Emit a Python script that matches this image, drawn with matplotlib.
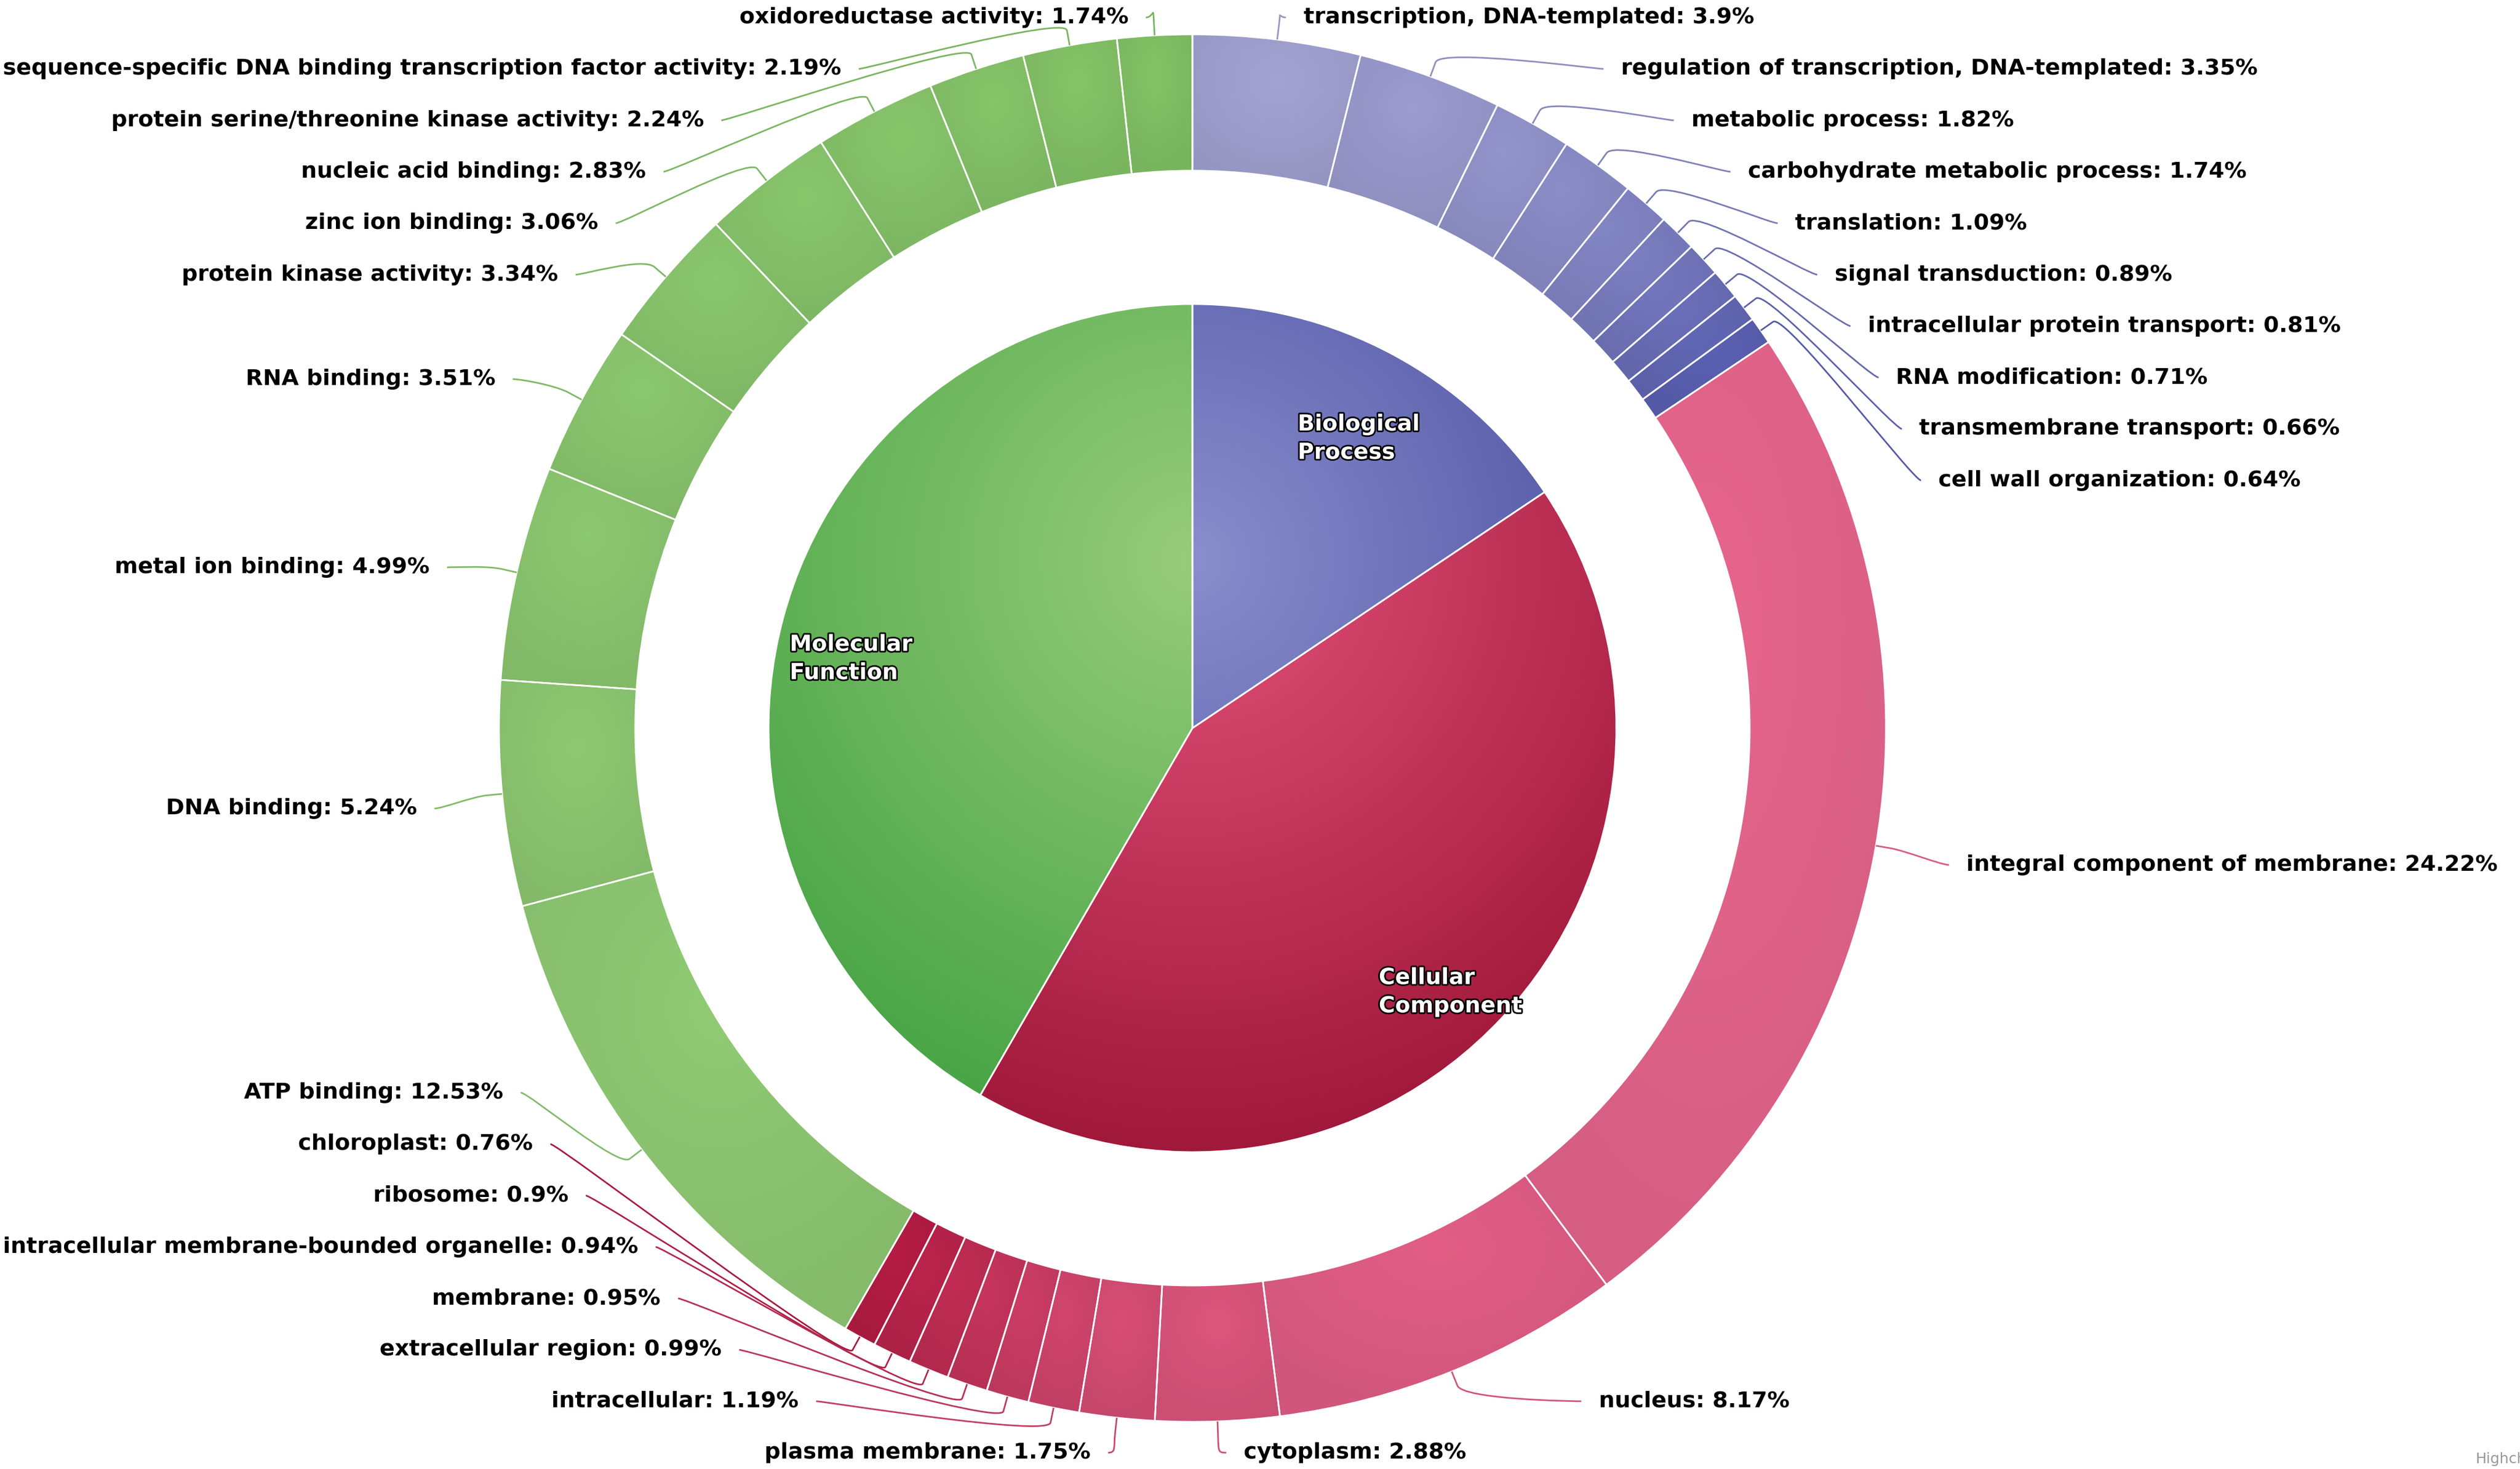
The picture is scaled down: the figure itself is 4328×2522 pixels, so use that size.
import numpy as np
import matplotlib
matplotlib.use('Agg')
import matplotlib.pyplot as plt
from matplotlib.path import Path
from matplotlib.patches import PathPatch
from matplotlib.colors import to_rgb
import matplotlib.patheffects as pe

# GO categories (inner pie) and their terms (outer ring), clockwise from 12 o'clock
category_names = ['Biological\nProcess', 'Cellular\nComponent', 'Molecular\nFunction']

bp_names = ['transcription, DNA-templated', 'regulation of transcription, DNA-templated',
            'metabolic process', 'carbohydrate metabolic process', 'translation',
            'signal transduction', 'intracellular protein transport', 'RNA modification',
            'transmembrane transport', 'cell wall organization']
bp_values = [3.9, 3.35, 1.82, 1.74, 1.09, 0.89, 0.81, 0.71, 0.66, 0.64]

cc_names = ['integral component of membrane', 'nucleus', 'cytoplasm', 'plasma membrane',
            'intracellular', 'extracellular region', 'membrane',
            'intracellular membrane-bounded organelle', 'ribosome', 'chloroplast']
cc_values = [24.22, 8.17, 2.88, 1.75, 1.19, 0.99, 0.95, 0.94, 0.9, 0.76]

mf_names = ['ATP binding', 'DNA binding', 'metal ion binding', 'RNA binding',
            'protein kinase activity', 'zinc ion binding', 'nucleic acid binding',
            'protein serine/threonine kinase activity',
            'sequence-specific DNA binding transcription factor activity',
            'oxidoreductase activity']
mf_values = [12.53, 5.24, 4.99, 3.51, 3.34, 3.06, 2.83, 2.24, 2.19, 1.74]

# styling
W, H = 4328, 2522
cx, cy = 2048, H - 1250
R_PIE, R_IN, R_OUT = 728, 957, 1191
R_LY, Y_SHIFT = 1297, -15        # label target radius and vertical offset
R_LX = {True: 1350, False: 1339}  # label circle per side (right, left)
Y_TOP, Y_BOT, GAP = H - 30, H - 2494, 88.3
PAD, BRK = 30, 26
FS = 27.5

inner_grad = [('#8a8ecc', '#40459a'), ('#e4527a', '#a0183a'), ('#98cc7a', '#46a444')]
ring_ends = [('#a3a3d3', '#5b61b3'), ('#e8668e', '#b61c44'), ('#90cb74', '#83c366')]


def ramp(c_first, c_last, n):
    a, b = np.array(to_rgb(c_first)), np.array(to_rgb(c_last))
    return [tuple(a + (b - a) * j / (n - 1)) for j in range(n)]


def gradient_fill(ax, wedge, c0, c1, box=None, n=200):
    # radial gradient like Highcharts (cx .5, cy .3, r .7 of a bounding box)
    ext = wedge.get_path().get_extents()
    x0, y0, x1, y1 = box if box else (ext.x0, ext.y0, ext.x1, ext.y1)
    u, v = np.meshgrid(np.linspace(0, 1, n), np.linspace(0, 1, n))
    t = np.clip(np.hypot(u - 0.5, v - 0.3) / 0.7, 0, 1)[..., None]
    img = np.array(to_rgb(c0)) * (1 - t) + np.array(to_rgb(c1)) * t
    im = ax.imshow(img, extent=(x0, x1, y0, y1), origin='upper',
                   interpolation='bilinear', zorder=1)
    im.set_clip_path(wedge)
    wedge.set_facecolor('none')
    wedge.set_zorder(2)


def mid_angles(vals):
    frac = np.asarray(vals, float) / np.sum(vals)
    return (np.cumsum(frac) - frac / 2) * 2 * np.pi


def distribute(targets):
    y = np.minimum(np.array(targets, float), Y_TOP)
    for i in range(1, len(y)):
        y[i] = min(y[i], y[i - 1] - GAP)
    y[-1] = max(y[-1], Y_BOT)
    for i in range(len(y) - 2, -1, -1):
        y[i] = max(y[i], y[i + 1] + GAP)
    return y


names = bp_names + cc_names + mf_names
values = bp_values + cc_values + mf_values
cat_values = [sum(bp_values), sum(cc_values), sum(mf_values)]

colors = (ramp(*ring_ends[0], len(bp_values)) + ramp(*ring_ends[1], len(cc_values))
          + ramp(*ring_ends[2], len(mf_values)))

fig = plt.figure(figsize=(W / 100, H / 100), dpi=100)
ax = fig.add_axes([0, 0, 1, 1])

inner, _ = ax.pie(cat_values, radius=R_PIE, center=(cx, cy), startangle=90,
                  counterclock=False, wedgeprops=dict(edgecolor='white', linewidth=2))
outer, _ = ax.pie(values, radius=R_OUT, center=(cx, cy), startangle=90, counterclock=False,
                  wedgeprops=dict(width=R_OUT - R_IN, edgecolor='white', linewidth=2))

pie_box = (cx - R_PIE, cy - R_PIE, cx + R_PIE, cy + R_PIE)
for w, (c0, c1) in zip(inner, inner_grad):
    gradient_fill(ax, w, c0, c1, box=pie_box)
for w, c in zip(outer, colors):
    gradient_fill(ax, w, c, tuple(np.array(c) * 0.92))

ax.set_xlim(0, W)
ax.set_ylim(0, H)
ax.set_aspect('equal')
ax.axis('off')

# inner labels
for name, phi in zip(category_names, mid_angles(cat_values)):
    ax.text(cx + 607 * np.sin(phi), cy + 607 * np.cos(phi) - 39, name, ha='center', va='center',
            multialignment='left', color='white', fontsize=FS, fontweight='bold',
            linespacing=1.45, zorder=5,
            path_effects=[pe.withStroke(linewidth=4, foreground='black')])

# outer labels with connectors
phis = mid_angles(values)
targets = cy + Y_SHIFT + R_LY * np.cos(phis)
renderer = fig.canvas.get_renderer()

for is_right in (True, False):
    idx = [i for i in range(len(values)) if (np.sin(phis[i]) > 0) == is_right]
    idx.sort(key=lambda i: -targets[i])
    ys = distribute(targets[idx])
    sgn = 1 if is_right else -1
    for i, y in zip(idx, ys):
        phi = phis[i]
        if abs(y - Y_TOP) < 1 or abs(y - Y_BOT) < 1:
            x_text = cx + R_OUT * np.sin(phi) + sgn * 45
        else:
            x_text = cx + sgn * np.sqrt(max(R_LX[is_right] ** 2 - (y - cy) ** 2, 0))
        t = ax.text(x_text, y, f'{names[i]}: {values[i]:g}%', ha='left' if is_right else 'right',
                    va='center', fontsize=FS, fontweight='bold', color='black', zorder=5)
        bb = t.get_window_extent(renderer)
        if bb.x0 < 5:
            x_text += 5 - bb.x0
        elif bb.x1 > W - 5:
            x_text -= bb.x1 - (W - 5)
        t.set_x(x_text)

        xa = x_text - sgn * PAD
        s, c = np.sin(phi), np.cos(phi)
        touch = (cx + R_OUT * s, cy + R_OUT * c)
        brk = (cx + (R_OUT + BRK) * s, cy + (R_OUT + BRK) * c)
        ctl = (cx + (R_OUT + 2 * BRK) * s, cy + (R_OUT + 2 * BRK) * c)
        path = Path([(xa, y), (xa - sgn * 14, y), ctl, brk, touch],
                    [Path.MOVETO, Path.CURVE4, Path.CURVE4, Path.CURVE4, Path.LINETO])
        ax.add_patch(PathPatch(path, facecolor='none', edgecolor=tuple(np.array(colors[i]) * 0.92),
                               linewidth=2, zorder=4))

ax.text(4251, H - 2512, 'Highcharts.com', ha='left', va='baseline', fontsize=18, color='#999999')

fig.savefig('out.png', dpi=100, facecolor='white')
